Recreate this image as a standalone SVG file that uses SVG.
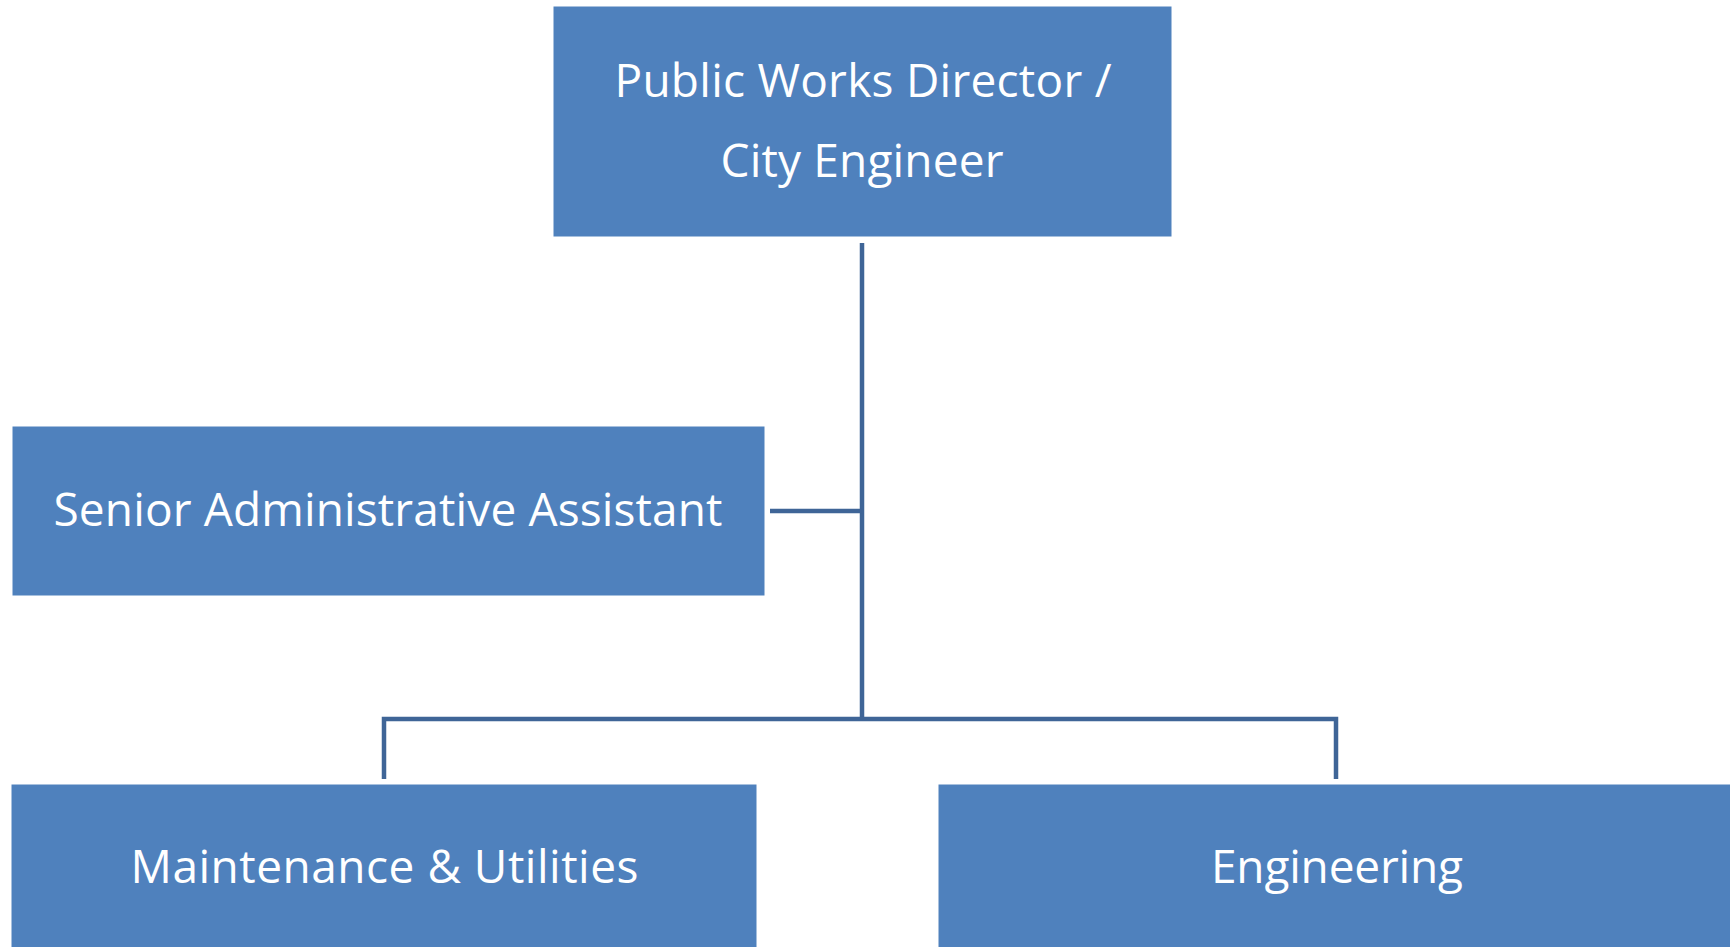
<svg xmlns="http://www.w3.org/2000/svg" width="1730" height="947" viewBox="0 0 1730 947">
<style>
.box{fill:#4F81BD;stroke:#FFFFFF;stroke-width:1}
.lbl{font-family:"Open Sans","Noto Sans","Liberation Sans",sans-serif;font-size:46px;fill:#FFFFFF;text-anchor:middle}
.conn{fill:none;stroke:#3F6597;stroke-width:4.5}
</style>
<rect width="1730" height="947" fill="#FFFFFF"/>
<g id="connectors">
<line class="conn" x1="862" y1="243" x2="862" y2="719"/>
<line class="conn" x1="770" y1="511" x2="862" y2="511"/>
<polyline class="conn" points="384,779 384,719 1336,719 1336,779"/>
</g>
<g id="node-director">
<rect class="box" x="553" y="6" width="619" height="231"/>
<text class="lbl" x="863" y="97" textLength="497" lengthAdjust="spacing">Public Works Director /</text>
<text class="lbl" x="862" y="177" textLength="283" lengthAdjust="spacing">City Engineer</text>
</g>
<g id="node-assistant">
<rect class="box" x="12" y="426" width="753" height="170"/>
<text class="lbl" x="388" y="526" textLength="669" lengthAdjust="spacing">Senior Administrative Assistant</text>
</g>
<g id="node-maintenance">
<rect class="box" x="11" y="784" width="746" height="170"/>
<text class="lbl" x="384.5" y="883" textLength="508" lengthAdjust="spacing">Maintenance &amp; Utilities</text>
</g>
<g id="node-engineering">
<rect class="box" x="938" y="784" width="800" height="170"/>
<text class="lbl" x="1337" y="883" textLength="252" lengthAdjust="spacing">Engineering</text>
</g>
</svg>
